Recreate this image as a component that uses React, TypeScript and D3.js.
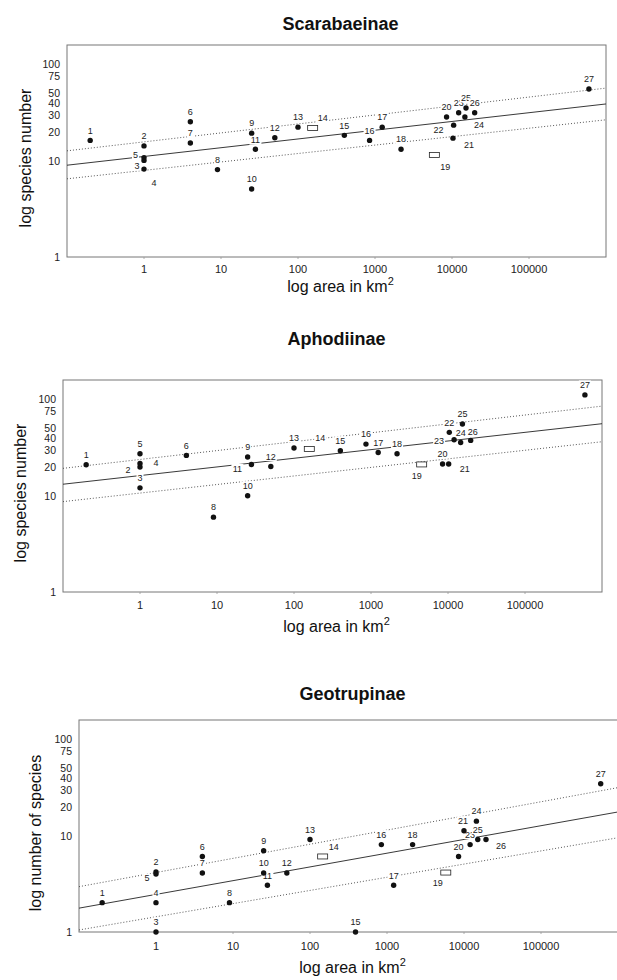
import React from 'react';
import * as d3 from 'd3';

// ---------- data ----------
const siteLabels = ["1","2","3","4","5","6","7","8","9","10","11","12","13","14","15","16","17","18","19","20","21","22","23","24","25","26","27"];
const boxSites = ["14", "19"]; // drawn as open rectangles

const scarabArea = [0.2,1,1,1,1,4,4,9,25,25,28,50,100,155,400,850,1240,2180,5900,8500,10300,10500,12200,14700,15200,19700,600000];
const scarabSpecies = [16.3,14.3,8.2,10.1,10.8,25.5,15.3,8.1,19.4,5.1,13.2,17.4,22.4,21.9,18.4,16.3,22.4,13.2,11.5,28.5,17.2,23.5,31.6,28.5,35.4,31.6,55.8];

const aphodArea = [0.2,1,1,1,1,4,null,9,25,25,28,50,100,158,400,860,1240,2180,4550,8500,10200,10400,12000,14600,15400,19700,600000];
const aphodSpecies = [21,21.7,12.1,19.9,27.4,26.3,null,6.0,25.3,10,21.2,20.2,31.4,30.6,29.4,34.5,28.2,27.4,21.2,21.4,21.4,45.7,38.3,35.9,55.8,37.7,112];

const geotrupArea = [0.2,1,1,1,1,4,4,9,25,25,28,50,100,146,390,845,1220,2150,5800,8500,10000,null,12000,14500,15100,19300,596000];
const geotrupSpecies = [2.02,4.2,1.0,2.02,4.0,6.1,4.1,2.02,7.0,4.1,3.06,4.1,9.15,6.1,1.0,8.1,3.06,8.1,4.15,6.1,11.3,null,8.1,14.2,9.15,9.15,34.8];

// regression line (fit) and confidence lines, species values at the two ends of the area axis
const lineAreas = [0.1, 1000000];
const scarabFit = [9.0, 39.0];
const scarabUpper = [12.7, 57.0];
const scarabLower = [6.5, 26.7];
const aphodFit = [13.2, 56.2];
const aphodUpper = [19.3, 85.6];
const aphodLower = [8.7, 36.5];
const geotrupFit = [1.77, 17.7];
const geotrupUpper = [2.96, 31.7];
const geotrupLower = [1.05, 9.55];

const xTickValues = [1, 10, 100, 1000, 10000, 100000];
const xTickLabels = ["1", "10", "100", "1000", "10000", "100000"];
const yTickValues = [1, 10, 20, 30, 40, 50, 75, 100];
const yTickLabels = ["1", "10", "20", "30", "40", "50", "75", "100"];

const titles = ["Scarabaeinae", "Aphodiinae", "Geotrupinae"];
const yTitles = ["log species number", "log species number", "log number of species"];

// ---------- layout ----------
const FONT = "'Liberation Sans', Arial, Helvetica, sans-serif";
const PLOT_W = 539;
const PLOT_H = 212;
const X_DOMAIN: [number, number] = [0.1, 1000000];
const Y_DOMAIN: [number, number] = [1, 160];

const layouts = [
  { left: 67, top: 45, titleY: 30, tickY: 273, xLabelY: 292, yLabelX: 25, yLabelY: 158 },
  { left: 63, top: 380, titleY: 345, tickY: 609, xLabelY: 632, yLabelX: 20, yLabelY: 493 },
  { left: 79, top: 720, titleY: 700, tickY: 950, xLabelY: 973, yLabelX: 35, yLabelY: 833 },
];

// label centre offsets from the marker (px); default is above the marker
const labelOffsets: Record<string, [number, number]>[] = [
  { "3": [-7, -3], "4": [10, 22], "5": [-8.5, -3], "14": [10, -10], "19": [11, 12], "21": [16, 7], "22": [-15, 5], "24": [14, 8], "11": [0, -9] },
  { "2": [-12, 6], "4": [16, -4], "11": [-14, 4], "14": [11, -11], "19": [-5, 11], "21": [16, 5], "23": [-15, 1], "26": [2, -9] },
  { "5": [-9, 4], "14": [11, -10], "19": [-8, 10], "26": [15, 6], "21": [-1, -10] },
];

const panels = [
  { area: scarabArea, species: scarabSpecies, fit: scarabFit, upper: scarabUpper, lower: scarabLower },
  { area: aphodArea, species: aphodSpecies, fit: aphodFit, upper: aphodUpper, lower: aphodLower },
  { area: geotrupArea, species: geotrupSpecies, fit: geotrupFit, upper: geotrupUpper, lower: geotrupLower },
];

function Panel({ idx }: { idx: number }) {
  const L = layouts[idx];
  const P = panels[idx];
  const x = d3.scaleLog().domain(X_DOMAIN).range([L.left, L.left + PLOT_W]);
  const y = d3.scaleLog().domain(Y_DOMAIN).range([L.top + PLOT_H, L.top]);
  const line = d3.line<[number, number]>().x(d => x(d[0])).y(d => y(d[1]));
  const mk = (vals: number[]) => line(lineAreas.map((a, i) => [a, vals[i]] as [number, number])) || '';
  const cx = L.left + PLOT_W / 2 + 4;
  const bottom = L.top + PLOT_H;
  const offs = labelOffsets[idx];
  const LF = 9;

  const pts = siteLabels.map((lab, i) => ({ lab, a: P.area[i], s: P.species[i] }))
    .filter(p => p.a != null && p.s != null) as { lab: string; a: number; s: number }[];

  return (
    <g>
      <text x={cx} y={L.titleY} textAnchor="middle" fontFamily={FONT} fontWeight="bold" fontSize={18} fill="#111">{titles[idx]}</text>
      {/* frame */}
      <rect x={L.left} y={L.top} width={PLOT_W} height={PLOT_H} fill="none" stroke="#777" strokeWidth={1} />
      {/* y tick labels */}
      {yTickValues.map((v, i) => (
        <text key={'y' + i} x={L.left - 7} y={y(v)} dy="0.36em" textAnchor="end" fontFamily={FONT} fontSize={10.5} fill="#222">{yTickLabels[i]}</text>
      ))}
      {/* x ticks */}
      {xTickValues.map((v, i) => (
        <g key={'x' + i}>
          <line x1={x(v)} x2={x(v)} y1={bottom} y2={bottom + 2} stroke="#999" strokeWidth={0.8} />
          <text x={x(v)} y={L.tickY} textAnchor="middle" fontFamily={FONT} fontSize={11} fill="#222">{xTickLabels[i]}</text>
        </g>
      ))}
      {/* axis titles */}
      <text x={cx} y={L.xLabelY} textAnchor="middle" fontFamily={FONT} fontSize={16} fill="#111">
        log area in km<tspan fontSize={11} dy={-7}>2</tspan>
      </text>
      <text transform={`translate(${L.yLabelX},${L.yLabelY}) rotate(-90)`} dy="0.35em" textAnchor="middle" fontFamily={FONT} fontSize={16} fill="#111">{yTitles[idx]}</text>
      {/* lines */}
      <path d={mk(P.fit)} fill="none" stroke="#222" strokeWidth={0.9} />
      <path d={mk(P.upper)} fill="none" stroke="#444" strokeWidth={0.9} strokeDasharray="1,2" />
      <path d={mk(P.lower)} fill="none" stroke="#444" strokeWidth={0.9} strokeDasharray="1,2" />
      {/* labels with opaque boxes */}
      {pts.map(p => {
        const o = offs[p.lab] || [0, -10];
        const lx = x(p.a) + o[0];
        const ly = y(p.s) + o[1];
        const w = p.lab.length * 0.556 * LF + 2;
        return (
          <g key={'l' + p.lab}>
            <rect x={lx - w / 2} y={ly - 4.5} width={w} height={9} fill="#fff" />
            <text x={lx} y={ly} dy="0.36em" textAnchor="middle" fontFamily={FONT} fontSize={LF} fill="#222">{p.lab}</text>
          </g>
        );
      })}
      {/* markers */}
      {pts.map(p => boxSites.includes(p.lab) ? (
        <rect key={'m' + p.lab} x={x(p.a) - 5} y={y(p.s) - 2.5} width={10} height={5} fill="#fff" stroke="#222" strokeWidth={0.8} />
      ) : (
        <circle key={'m' + p.lab} cx={x(p.a)} cy={y(p.s)} r={2.7} fill="#111" />
      ))}
    </g>
  );
}

export default function App() {
  return (
    <svg width={617} height={980} viewBox="0 0 617 980" style={{ position: 'absolute', left: 0, top: 0, background: '#fff' }}>
      <rect x={0} y={0} width={617} height={980} fill="#fff" />
      {[0, 1, 2].map(i => <Panel key={i} idx={i} />)}
    </svg>
  );
}
